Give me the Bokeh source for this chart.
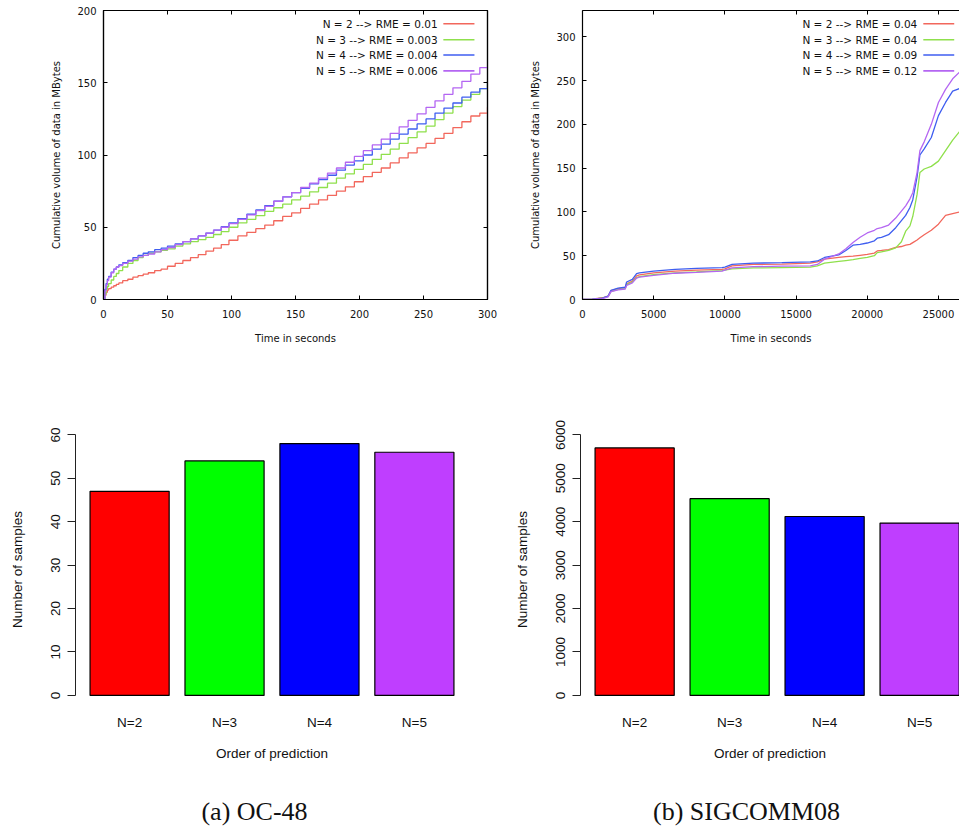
from bokeh.plotting import figure
from bokeh.layouts import column, row
from bokeh.models import (LinearAxis, Range1d, SingleIntervalTicker, FixedTicker,
                          CustomJSTickFormatter)
from bokeh.core.properties import value
from bokeh.embed import file_html
from bokeh.resources import INLINE

# ---------------- data ----------------
series_labels_oc48 = ["N = 2 --> RME = 0.01", "N = 3 --> RME = 0.003",
                      "N = 4 --> RME = 0.004", "N = 5 --> RME = 0.006"]
series_labels_sig = ["N = 2 --> RME = 0.04", "N = 3 --> RME = 0.04",
                     "N = 4 --> RME = 0.09", "N = 5 --> RME = 0.12"]

oc48_t = [0, 1, 2, 3, 4, 6, 8, 10, 12, 15, 19, 23, 27, 31, 35, 40, 45, 50, 56, 62,
          68, 74, 80, 86, 92, 98, 105, 112, 119, 126, 133, 140, 147, 154, 161, 168, 175, 182, 189, 196,
          203, 210, 217, 224, 231, 238, 245, 252, 259, 266, 273, 280, 287, 294, 300]
oc48_n2 = [0, 3, 5, 6.5, 7.5, 8.5, 9.5, 10.5, 11.5, 13, 14, 15.5, 16.5, 17.5, 18.5, 20, 21, 23, 25, 27,
           29, 31, 33.5, 35.5, 38, 41, 44, 46.5, 49, 51.5, 54.5, 57.5, 60, 63, 66, 69, 72, 75, 78, 81.5,
           85, 88, 91, 94.5, 98, 101.5, 105, 108, 111.5, 115, 119, 123, 127, 129, 133]
oc48_n3 = [0, 4, 7, 9, 11, 13.5, 16, 18, 20, 22.5, 25, 27, 29, 30.5, 32, 33, 34, 35, 37, 38.5,
           40, 41.5, 43, 45, 47, 50, 53, 55.5, 58, 61, 63.5, 66, 69, 71.5, 74.5, 77.5, 80.5, 84, 87, 90,
           93.5, 97, 100.5, 104, 108, 112, 116, 120, 124.5, 129, 133.5, 138, 142, 146, 151]
oc48_n4 = [0, 7, 11, 14, 16, 19, 21, 22.5, 24, 25.5, 27, 29, 30.5, 32, 33, 34.5, 35.5, 37, 38.5, 40,
           42, 44, 46, 48, 50.5, 53, 56, 59, 62, 65, 68, 71, 74, 77, 80, 83, 86, 89.5, 93, 96,
           100, 104, 107.5, 111, 114.5, 118, 121.5, 125, 129, 132.5, 136, 140, 143.5, 146, 151]
oc48_n5 = [0, 6, 10, 13, 15.5, 18.5, 21, 22.5, 23.5, 25, 26.5, 28, 29.5, 30.5, 31.5, 33, 34.5, 36, 38, 40,
           42, 44, 46, 48, 50, 52.5, 55.5, 58.5, 61.5, 64.5, 68, 71, 74, 77.5, 80.5, 84, 87.5, 91, 95, 99,
           103, 107, 111, 115, 119.5, 124, 128.5, 133, 137.5, 142, 146.5, 151, 156, 160.5, 161]

sig_t = [0, 700, 1400, 1800, 2000, 2500, 3000, 3100, 3500, 3800, 4000, 5000, 6500, 8000, 9800,
         10000, 10500, 12000, 14000, 16000, 16500, 17000, 18000, 18500, 19000, 19500, 20000, 20500,
         20700, 21000, 21500, 22000, 22400, 22700, 23000, 23200, 23500, 23700, 24000, 24500, 25000,
         25500, 26000, 26500]
sig_n2 = [0, 0.5, 2, 4, 10, 12.5, 13.5, 18, 21, 27, 28, 30.5, 32.5, 33.5, 34.5, 35, 38.5, 40, 40.5, 41.5,
          43, 46, 48, 49, 49.5, 50.5, 51.5, 53, 55.5, 56, 57, 59.5, 60.5, 62, 63, 65, 68, 70.5, 74, 79,
          86, 96, 98, 100]
sig_n3 = [0, 0.5, 1.5, 3.5, 9, 11.5, 12.5, 17, 20, 25, 26, 28.5, 30.5, 31.5, 33, 33.5, 35, 36, 36.5, 37,
          38.5, 41.5, 43.5, 44.5, 45.5, 47, 48, 50, 53.5, 54.5, 56, 59, 66, 78, 84, 95, 120, 145, 149, 152,
          158, 170, 182, 192]
sig_n4 = [0, 0.5, 1.5, 4, 10.5, 13, 14, 20, 23, 29.5, 30.5, 32.5, 34.5, 35.5, 36.5, 37, 40, 41.5, 42, 43,
          44, 48, 51, 56, 62, 63, 64.5, 67, 70, 71, 74, 82, 90, 96, 105, 114, 140, 165, 172, 185,
          210, 225, 238, 241]
sig_n5 = [0, 0.3, 1, 3, 9, 11, 12, 16, 19, 24.5, 25.5, 27.5, 30, 31, 32.5, 33.5, 36, 37.5, 38, 38.5,
          40, 46, 52, 58, 65, 71, 76, 79, 81, 82, 85, 93, 101, 107, 115, 122, 145, 170, 180, 200,
          225, 240, 252, 260]

orders = ["N=2", "N=3", "N=4", "N=5"]
oc48_samples = [47, 54, 58, 56]
sig_samples = [5700, 4530, 4120, 3970]

captions = ["(a) OC-48", "(b) SIGCOMM08"]

# ---------------- styles ----------------
LINE_COLORS = ["#f2675c", "#8fe04c", "#3f5ef0", "#b466f2"]
BAR_COLORS = ["#ff0000", "#00ff00", "#0000ff", "#bf3eff"]
GP_FONT = "DejaVu Sans"
R_FONT = "Liberation Sans"


def gp_axis(ax, labels=True):
    ax.major_tick_in = 4
    ax.major_tick_out = 0
    ax.minor_tick_line_color = None
    ax.axis_line_color = "black"
    ax.axis_line_width = 1.2
    ax.major_tick_line_color = "black"
    if labels:
        ax.major_label_text_font = GP_FONT
        ax.major_label_text_font_size = "10px"
        ax.major_label_text_color = "#111111"
        ax.axis_label_text_font = GP_FONT
        ax.axis_label_text_font_size = "10px"
        ax.axis_label_text_font_style = "normal"
        ax.axis_label_text_color = "#111111"
    else:
        ax.formatter = CustomJSTickFormatter(code="return ''")
        ax.major_label_text_font_size = "1px"
        ax.major_label_standoff = 0


def line_panel(width, bl, br, xr, yr, xint, yint, t, ys, labels, step, right_mirror,
               leg_tx, leg_x0, leg_x1, leg_y):
    p = figure(width=width, height=358, x_range=Range1d(*xr), y_range=Range1d(*yr),
               output_backend="svg", toolbar_location=None,
               min_border_left=bl, min_border_right=br, min_border_top=10, min_border_bottom=59)
    p.grid.visible = False
    p.background_fill_color = "white"
    p.border_fill_color = "white"
    p.outline_line_color = "black" if right_mirror else None
    p.outline_line_width = 1.2
    p.xaxis.ticker = SingleIntervalTicker(interval=xint, num_minor_ticks=0)
    p.yaxis.ticker = SingleIntervalTicker(interval=yint, num_minor_ticks=0)
    p.xaxis.axis_label = "Time in seconds"
    p.yaxis.axis_label = "Cumulative volume of data in MBytes"
    for ax in p.xaxis + p.yaxis:
        gp_axis(ax)
    p.xaxis.major_label_standoff = 10
    p.xaxis.axis_label_standoff = 12
    p.yaxis.major_label_standoff = 7
    p.yaxis.axis_label_standoff = 12
    top = LinearAxis(ticker=SingleIntervalTicker(interval=xint, num_minor_ticks=0))
    gp_axis(top, labels=False)
    p.add_layout(top, "above")
    if right_mirror:
        rt = LinearAxis(ticker=SingleIntervalTicker(interval=yint, num_minor_ticks=0))
        gp_axis(rt, labels=False)
        p.add_layout(rt, "right")
    for y, c in zip(ys, LINE_COLORS):
        if step:
            p.step(t, y, mode="after", line_color=c, line_width=1.3)
        else:
            p.line(t, y, line_color=c, line_width=1.3)
    # legend (gnuplot style: text then sample)
    p.text(x=[leg_tx] * 4, y=leg_y, text=labels, text_align="right", text_baseline="middle",
           text_font=value(GP_FONT), text_font_size="10.5px", text_color="#111111")
    p.segment(x0=[leg_x0] * 4, x1=[leg_x1] * 4, y0=leg_y, y1=leg_y,
              line_color=LINE_COLORS, line_width=1.6)
    return p


LEG_FRAC = (0.954, 0.899, 0.846, 0.791)

XMAX_A, YMAX_A = 300, 200
p1 = line_panel(500, 103, 13, (0, XMAX_A), (0, YMAX_A), 50, 50, oc48_t,
                [oc48_n2, oc48_n3, oc48_n4, oc48_n5], series_labels_oc48, True, True,
                XMAX_A * 0.87, XMAX_A * 0.885, XMAX_A * 0.966,
                [YMAX_A * f for f in LEG_FRAC])

XMAX_B, YMAX_B = 26480, 330
p2 = line_panel(459, 82, 0, (0, XMAX_B), (0, YMAX_B), 5000, 50, sig_t,
                [sig_n2, sig_n3, sig_n4, sig_n5], series_labels_sig, False, False,
                XMAX_B * 0.888, XMAX_B * 0.904, XMAX_B * 0.986,
                [YMAX_B * f for f in LEG_FRAC])


def bar_panel(width, bl, br, ymax, yint, vals, x_end):
    p = figure(width=width, height=412, x_range=Range1d(-0.57, x_end),
               y_range=Range1d(-ymax * 0.0387, ymax * 1.0053),
               output_backend="svg", toolbar_location=None,
               min_border_left=bl, min_border_right=br, min_border_top=75, min_border_bottom=65)
    p.grid.visible = False
    p.outline_line_color = None
    p.background_fill_color = "white"
    p.border_fill_color = "white"
    idx = list(range(len(orders)))
    p.vbar(x=idx, top=vals, bottom=0, width=1 / 1.2, fill_color=BAR_COLORS,
           line_color="black", line_width=1.2)
    xa = p.xaxis[0]
    xa.ticker = FixedTicker(ticks=idx)
    xa.major_label_overrides = {i: o for i, o in zip(idx, orders)}
    xa.axis_line_color = None
    xa.major_tick_line_color = None
    xa.minor_tick_line_color = None
    xa.major_label_standoff = 3
    xa.axis_label = "Order of prediction"
    xa.axis_label_standoff = 13
    ya = p.yaxis[0]
    ya.ticker = SingleIntervalTicker(interval=yint, num_minor_ticks=0)
    ya.bounds = (0, ymax)
    ya.major_tick_out = 8
    ya.major_tick_in = 0
    ya.minor_tick_line_color = None
    ya.axis_line_color = "#222222"
    ya.major_tick_line_color = "#222222"
    ya.major_label_orientation = "vertical"
    ya.major_label_standoff = 7
    ya.axis_label = "Number of samples"
    ya.axis_label_standoff = 24
    for ax in (xa, ya):
        ax.major_label_text_font = R_FONT
        ax.major_label_text_font_size = "13.5px"
        ax.major_label_text_color = "#111111"
        ax.axis_label_text_font = R_FONT
        ax.axis_label_text_font_size = "13.5px"
        ax.axis_label_text_font_style = "normal"
        ax.axis_label_text_color = "#111111"
    return p


p3 = bar_panel(488, 75, 20, 60, 10, oc48_samples, 3.57)
p4 = bar_panel(471, 92, 0, 6000, 1000, sig_samples, 3.42)

cap = figure(width=959, height=57, x_range=Range1d(0, 959), y_range=Range1d(0, 57),
             output_backend="svg", toolbar_location=None, min_border=0,
             x_axis_location=None, y_axis_location=None)
cap.grid.visible = False
cap.outline_line_color = None
cap.text(x=[254, 746], y=[16, 16], text=captions, text_align="center", text_baseline="middle",
         text_font=value("Liberation Serif"), text_font_size="26px", text_color="#111111")

layout = column(row(p1, p2), row(p3, p4), cap)
open("out.html", "w").write(file_html(layout, INLINE))
